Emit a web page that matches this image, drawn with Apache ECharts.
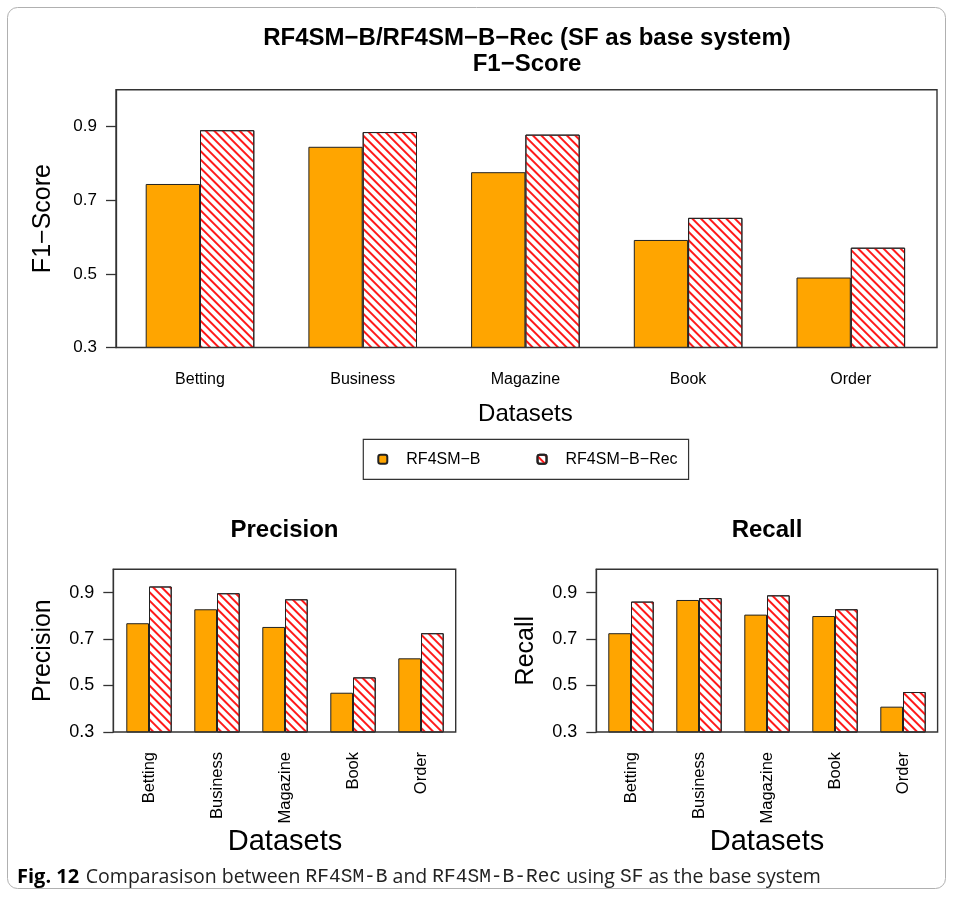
<!DOCTYPE html>
<html>
<head>
<meta charset="utf-8">
<script src="https://cdn.jsdelivr.net/npm/echarts@6/dist/echarts.min.js"></script>
<style>
html,body{margin:0;padding:0;background:#fff;}
#chart{width:954px;height:900px;}
</style>
</head>
<body>
<div id="chart"></div>
<script>
// ---- data ----
const categories = ['Betting', 'Business', 'Magazine', 'Book', 'Order'];
const seriesNames = ['RF4SM−B', 'RF4SM−B−Rec'];
const f1B    = [0.744, 0.845, 0.776, 0.592, 0.490];
const f1Rec  = [0.890, 0.885, 0.878, 0.652, 0.571];
const precB  = [0.768, 0.828, 0.752, 0.469, 0.617];
const precRec= [0.926, 0.897, 0.871, 0.535, 0.725];
const recB   = [0.725, 0.868, 0.805, 0.799, 0.409];
const recRec = [0.861, 0.876, 0.888, 0.828, 0.472];
const yTicks = [0.3, 0.5, 0.7, 0.9];
const yMin = 0.3, yMax = 1.0;

// ---- styles / layout ----
const FONT = '"Liberation Sans", Arial, Helvetica, sans-serif';
const ORANGE = '#FFA500';
const HATCH = '#FF1a1a';
const EDGE = '#222';

const panels = [
  { data: [f1B, f1Rec], yName: 'F1−Score',
    grid: { left: 118.65, top: 89.7, width: 813.5, height: 257.8 },
    frame: [116, 89.7, 937, 347.5], barWidth: 54.3,
    yNameGap: 60, yNameSize: 25, tickSize: 17,
    rotate: 0, labelMargin: 24, labelSize: 16, xNameGap: 55, xNameSize: 24 },
  { data: [precB, precRec], yName: 'Precision',
    grid: { left: 115, top: 569.3, width: 340, height: 162.7 },
    frame: [113.3, 569.3, 455.7, 732], barWidth: 22.7,
    yNameGap: 58, yNameSize: 25, tickSize: 18,
    rotate: 90, labelMargin: 20, labelSize: 16.5, xNameGap: 88, xNameSize: 29 },
  { data: [recB, recRec], yName: 'Recall',
    grid: { left: 597, top: 569.3, width: 340, height: 162.7 },
    frame: [596.3, 569.3, 937.6, 732], barWidth: 22.7,
    yNameGap: 58, yNameSize: 25, tickSize: 18,
    rotate: 90, labelMargin: 20, labelSize: 16.5, xNameGap: 88, xNameSize: 29 }
];

const hatchDecal = {
  symbol: 'rect', symbolSize: 1, color: HATCH,
  dashArrayX: [1, 0], dashArrayY: [1.2, 3.9],
  rotation: Math.PI / 4
};

const grids = [], xAxes = [], yAxes = [], series = [], graphics = [];

panels.forEach((p, i) => {
  grids.push(Object.assign({ containLabel: false }, p.grid));
  xAxes.push({
    type: 'category', gridIndex: i, data: categories,
    axisLine: { show: false }, axisTick: { show: false },
    axisLabel: { rotate: p.rotate, margin: p.labelMargin, fontSize: p.labelSize,
                 fontFamily: FONT, color: '#000', interval: 0 },
    name: 'Datasets', nameLocation: 'middle', nameGap: p.xNameGap,
    nameTextStyle: { fontSize: p.xNameSize, fontFamily: FONT, color: '#000' }
  });
  yAxes.push({
    type: 'value', gridIndex: i, min: yMin, max: yMax,
    offset: p.grid.left - p.frame[0],
    splitLine: { show: false },
    axisLine: { show: true, lineStyle: { color: '#333', width: 1.3 } },
    axisTick: { show: true, length: 10, customValues: yTicks, lineStyle: { color: '#333', width: 1.3 } },
    axisLabel: { customValues: yTicks, margin: 19, fontSize: p.tickSize, fontFamily: FONT, color: '#000',
                 formatter: v => String(v) },
    name: p.yName, nameLocation: 'middle', nameGap: p.yNameGap,
    nameTextStyle: { fontSize: p.yNameSize, fontFamily: FONT, color: '#000' }
  });
  series.push({
    type: 'bar', name: seriesNames[0], xAxisIndex: i, yAxisIndex: i,
    data: p.data[0], barWidth: p.barWidth, barGap: '0%',
    itemStyle: { color: ORANGE, borderColor: EDGE, borderWidth: 1 },
    emphasis: { disabled: true }, animation: false
  });
  series.push({
    type: 'bar', name: seriesNames[1], xAxisIndex: i, yAxisIndex: i,
    data: p.data[1], barWidth: p.barWidth, barGap: '0%',
    itemStyle: { color: '#fff', borderColor: EDGE, borderWidth: 1, decal: hatchDecal },
    emphasis: { disabled: true }, animation: false
  });
  const f = p.frame;
  graphics.push({
    type: 'rect', silent: true, z: 10,
    shape: { x: f[0], y: f[1], width: f[2] - f[0], height: f[3] - f[1] },
    style: { fill: 'none', stroke: '#333', lineWidth: 1.4 }
  });
});

// outer figure border
graphics.push({
  type: 'rect', silent: true, z: 0,
  shape: { x: 7.5, y: 7.5, width: 938, height: 881, r: 10 },
  style: { fill: 'none', stroke: '#b0b0b0', lineWidth: 1 }
});
// titles
graphics.push({ type: 'text', x: 527, y: 38, style: { text: 'RF4SM−B/RF4SM−B−Rec (SF as base system)',
  font: 'bold 24px ' + FONT, fill: '#000', textAlign: 'center', textVerticalAlign: 'middle' } });
graphics.push({ type: 'text', x: 527, y: 64, style: { text: 'F1−Score',
  font: 'bold 24px ' + FONT, fill: '#000', textAlign: 'center', textVerticalAlign: 'middle' } });
graphics.push({ type: 'text', x: 284.5, y: 530, style: { text: 'Precision',
  font: 'bold 24px ' + FONT, fill: '#000', textAlign: 'center', textVerticalAlign: 'middle' } });
graphics.push({ type: 'text', x: 767, y: 530, style: { text: 'Recall',
  font: 'bold 24px ' + FONT, fill: '#000', textAlign: 'center', textVerticalAlign: 'middle' } });
// caption
graphics.push({ type: 'text', x: 17, y: 877, style: {
  text: '{b|Fig. 12}  {n|Comparasison between }{m|RF4SM-B}{n| and }{m|RF4SM-B-Rec}{n| using }{m|SF}{n| as the base system}',
  textVerticalAlign: 'middle',
  rich: {
    b: { font: 'bold 20px "Open Sans", "Noto Sans", sans-serif', fill: '#000' },
    n: { font: '19.5px "Open Sans", "Noto Sans", sans-serif', fill: '#222' },
    m: { font: '19.5px "Liberation Mono", "DejaVu Sans Mono", monospace', fill: '#222' }
  } } });

const chart = echarts.init(document.getElementById('chart'), null, { renderer: 'canvas' });
chart.setOption({
  backgroundColor: '#fff',
  animation: false,
  grid: grids, xAxis: xAxes, yAxis: yAxes, series: series,
  legend: {
    data: seriesNames, left: 363.3, top: 439.3, orient: 'horizontal',
    itemWidth: 9, itemHeight: 9, itemGap: 56, selectedMode: false,
    padding: [12, 11, 12, 14], borderColor: '#333', borderWidth: 1.2, borderRadius: 0,
    backgroundColor: '#fff',
    textStyle: { fontSize: 16, fontFamily: FONT, color: '#000', padding: [0, 0, 0, 14] }
  },
  graphic: graphics
});
</script>
</body>
</html>
